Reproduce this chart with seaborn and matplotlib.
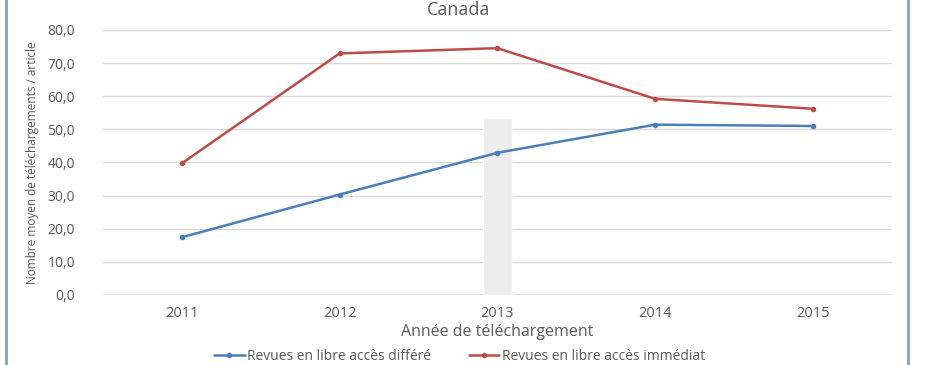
import numpy as np
import pandas as pd
from matplotlib import pyplot as plt
from matplotlib.lines import Line2D
from matplotlib.ticker import FuncFormatter
import seaborn as sns

years = [2011, 2012, 2013, 2014, 2015]
differe = [17.4, 30.3, 42.9, 51.4, 51.0]
immediat = [39.7, 72.9, 74.5, 59.2, 56.2]
highlight_year = [2013]
highlight_height = [53.5]

label_differe = "Revues en libre accès différé"
label_immediat = "Revues en libre accès immédiat"

sns.set_theme(style="white")
plt.rcParams['font.family'] = ['Open Sans', 'DejaVu Sans']
text_grey = "#595959"

df = pd.DataFrame({
    "Année": years * 2,
    "Valeur": differe + immediat,
    "Série": [label_differe] * len(years) + [label_immediat] * len(years),
})

fig = plt.figure(figsize=(9.27, 3.65), dpi=100)
ax = fig.add_axes([0.111, 0.192, 0.851, 0.726])

# faint grey band behind 2013
ax.bar(highlight_year, highlight_height, width=0.18, color="#ececec", zorder=1)

sns.lineplot(
    data=df, x="Année", y="Valeur", hue="Série",
    palette=["#4a7ebb", "#be4b48"], marker="o", markersize=4,
    markeredgewidth=0, linewidth=1.8, ax=ax, zorder=3,
)

ax.set_xlim(2010.5, 2015.5)
ax.set_ylim(0, 80)
ax.set_xticks(years)
ax.set_yticks(np.arange(0, 81, 10))
ax.yaxis.set_major_formatter(FuncFormatter(lambda v, p: f"{v:.1f}".replace(".", ",")))
ax.grid(axis="y", color="#d9d9d9", linewidth=1, zorder=0)
ax.set_axisbelow(True)
for side in ["top", "right", "left", "bottom"]:
    ax.spines[side].set_visible(False)
ax.axhline(0, color="#d9d9d9", linewidth=1.2, zorder=0)
ax.tick_params(axis="x", colors=text_grey, labelsize=10.5, length=0, pad=8)
ax.tick_params(axis="y", colors=text_grey, labelsize=10, length=0, pad=20)

ax.set_xlabel("Année de téléchargement", color=text_grey, fontsize=11.5, labelpad=2)
ax.set_ylabel("Nombre moyen de téléchargements / article", color=text_grey,
              fontsize=8.5, labelpad=6)
fig.text(0.495, 0.972, "Canada", color=text_grey, fontsize=13,
         ha="center", va="center")

handles, labels = ax.get_legend_handles_labels()
ax.get_legend().remove()
fig.legend(handles, labels, loc="center", bbox_to_anchor=(0.496, 0.024),
           bbox_transform=fig.transFigure, ncol=2, frameon=False,
           fontsize=10, labelcolor=text_grey, borderpad=0,
           handlelength=2.2, columnspacing=2.7, handletextpad=0.2)

# blue frame edges at the sides
fig.add_artist(Line2D([0.006, 0.006], [0, 1], color="#7aa0d4", linewidth=2))
fig.add_artist(Line2D([0.98, 0.98], [0, 1], color="#7aa0d4", linewidth=2))

fig.savefig("out.png", dpi=100)
